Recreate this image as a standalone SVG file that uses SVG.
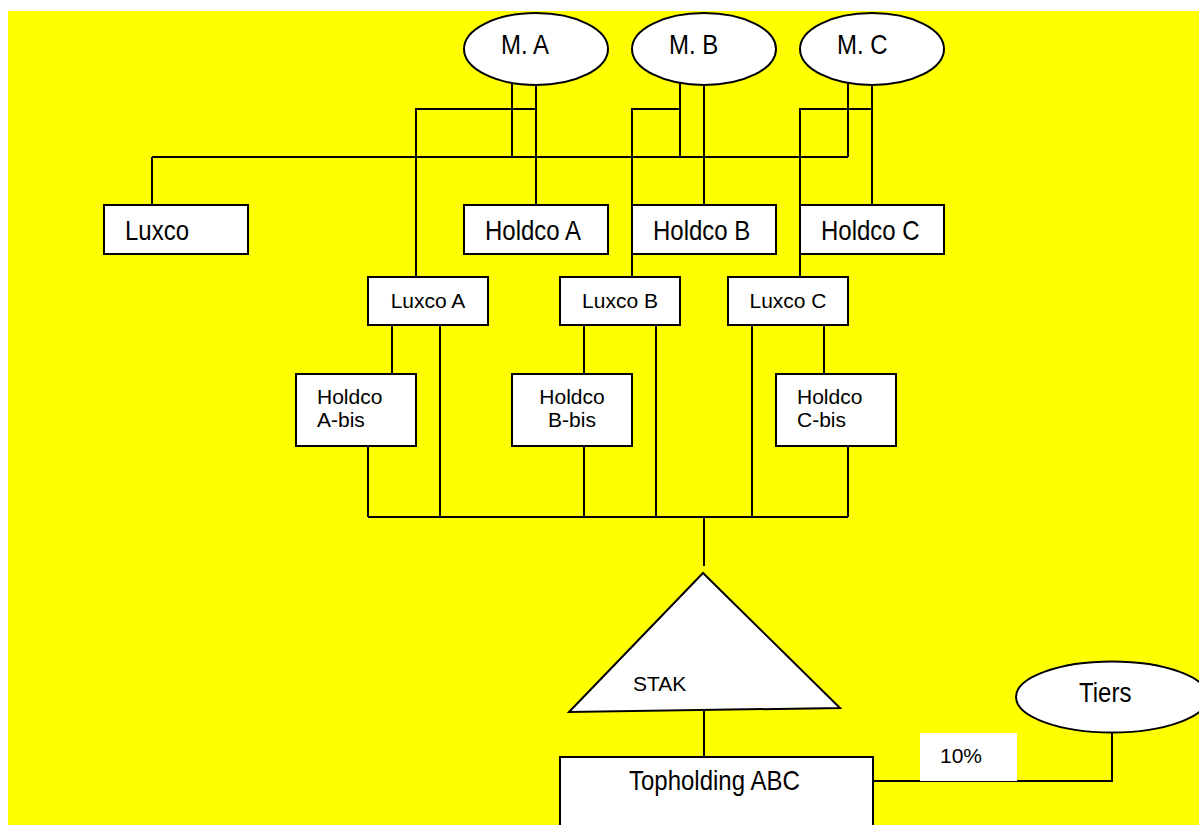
<svg xmlns="http://www.w3.org/2000/svg" width="1199" height="825" viewBox="0 0 1199 825">
  <style>
    .shape { fill: #ffffff; stroke: #000000; stroke-width: 2; }
    .wire { fill: none; stroke: #000000; stroke-width: 2; }
    .big { font-family: "Liberation Sans", Arial, sans-serif; font-size: 24px; fill: #000000; }
    .small { font-family: "Liberation Sans", Arial, sans-serif; font-size: 21px; fill: #000000; }
    .mid { text-anchor: middle; }
  </style>

  <!-- page background -->
  <rect x="8" y="11" width="1191" height="814" fill="#ffff00"/>

  <!-- ownership lines -->
  <g id="connectors" class="wire">
    <!-- shareholders to Luxco -->
    <path d="M512,49 V157 M680,49 V157 M848,49 V157 M152,157 H848 M152,157 V205"/>
    <!-- shareholders to their Holdco -->
    <path d="M536,49 V205 M704,49 V205 M872,49 V205"/>
    <!-- shareholders to their Luxco -->
    <path d="M536,109 H416 V277 M680,109 H632 V277 M872,109 H800 V277"/>
    <!-- Luxco to Holdco-bis and to the pool -->
    <path d="M392,325 V374 M440,325 V517 M584,325 V374 M656,325 V517 M752,325 V517 M824,325 V374"/>
    <!-- Holdco-bis to the pool -->
    <path d="M368,446 V517 M584,446 V517 M848,446 V517"/>
    <path d="M368,517 H848 M704,517 V566"/>
    <!-- STAK to Topholding -->
    <path d="M704,710 V757"/>
    <!-- third party stake -->
    <path d="M873,781 H1112 V733"/>
  </g>

  <g id="m-a">
    <ellipse class="shape" cx="536" cy="49" rx="72" ry="36"/>
    <text class="big" transform="translate(501,54) scale(1,1.12)">M. A</text>
  </g>
  <g id="m-b">
    <ellipse class="shape" cx="704" cy="49" rx="72" ry="36"/>
    <text class="big" transform="translate(669,54) scale(1,1.12)">M. B</text>
  </g>
  <g id="m-c">
    <ellipse class="shape" cx="872" cy="49" rx="72" ry="36"/>
    <text class="big" transform="translate(837,54) scale(1,1.12)">M. C</text>
  </g>

  <g id="luxco">
    <rect class="shape" x="104" y="205" width="144" height="49"/>
    <text class="big" transform="translate(125,240) scale(1,1.12)">Luxco</text>
  </g>
  <g id="holdco-a">
    <rect class="shape" x="464" y="205" width="144" height="49"/>
    <text class="big" transform="translate(485,240) scale(1,1.12)">Holdco A</text>
  </g>
  <g id="holdco-b">
    <rect class="shape" x="632" y="205" width="144" height="49"/>
    <text class="big" transform="translate(653,240) scale(1,1.12)">Holdco B</text>
  </g>
  <g id="holdco-c">
    <rect class="shape" x="800" y="205" width="144" height="49"/>
    <text class="big" transform="translate(821,240) scale(1,1.12)">Holdco C</text>
  </g>

  <g id="luxco-a">
    <rect class="shape" x="368" y="277" width="120" height="48"/>
    <text class="small mid" x="428" y="308">Luxco A</text>
  </g>
  <g id="luxco-b">
    <rect class="shape" x="560" y="277" width="120" height="48"/>
    <text class="small mid" x="620" y="308">Luxco B</text>
  </g>
  <g id="luxco-c">
    <rect class="shape" x="728" y="277" width="120" height="48"/>
    <text class="small mid" x="788" y="308">Luxco C</text>
  </g>

  <g id="holdco-a-bis">
    <rect class="shape" x="296" y="374" width="120" height="72"/>
    <text class="small" x="317" y="404">Holdco</text>
    <text class="small" x="317" y="427">A-bis</text>
  </g>
  <g id="holdco-b-bis">
    <rect class="shape" x="512" y="374" width="120" height="72"/>
    <text class="small mid" x="572" y="404">Holdco</text>
    <text class="small mid" x="572" y="427">B-bis</text>
  </g>
  <g id="holdco-c-bis">
    <rect class="shape" x="776" y="374" width="120" height="72"/>
    <text class="small" x="797" y="404">Holdco</text>
    <text class="small" x="797" y="427">C-bis</text>
  </g>

  <g id="stak">
    <polygon class="shape" points="703,573 569,712 840,708"/>
    <text class="small" x="633" y="691">STAK</text>
  </g>

  <g id="topholding">
    <rect class="shape" x="560" y="757" width="313" height="90"/>
    <text class="big" transform="translate(629,790) scale(1,1.12)">Topholding ABC</text>
  </g>

  <g id="tiers">
    <ellipse class="shape" cx="1112" cy="697" rx="96" ry="35.5"/>
    <text class="big" transform="translate(1079,702) scale(1,1.12)">Tiers</text>
  </g>

  <g id="stake-label">
    <rect x="920" y="733" width="97" height="48" fill="#ffffff"/>
    <text class="small" x="940" y="763">10%</text>
  </g>
</svg>
